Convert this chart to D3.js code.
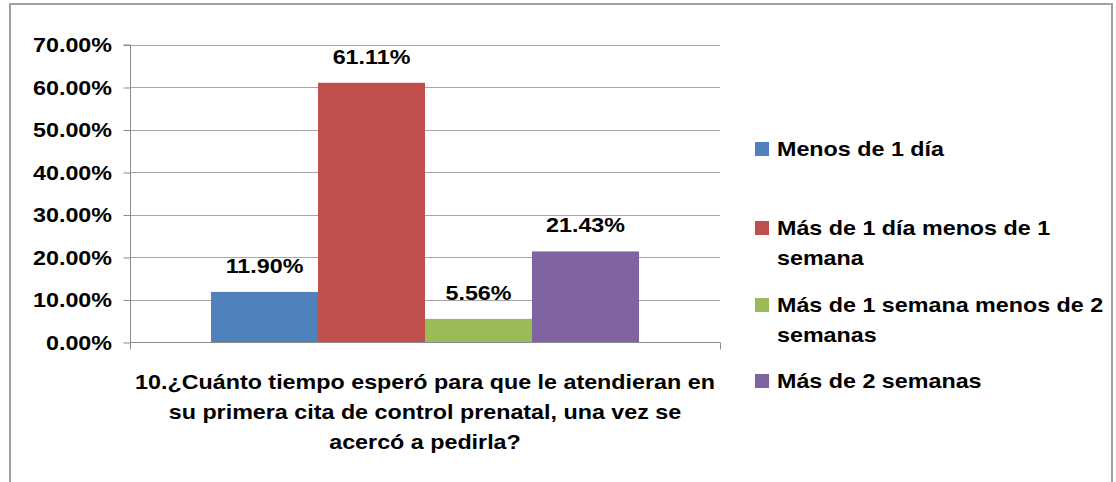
<!DOCTYPE html>
<html><head><meta charset="utf-8">
<script src="https://cdn.jsdelivr.net/npm/d3@7"></script>
<style>body{margin:0;background:#fff;overflow:hidden}text{font-family:"Liberation Sans",Arial,sans-serif;font-weight:bold;fill:#000}</style>
</head><body><svg id="c" width="1116" height="482"></svg>
<script>
const categories = ["10.¿Cuánto tiempo esperó para que le atendieran en su primera cita de control prenatal, una vez se acercó a pedirla?"];
const categoryLines = ["10.¿Cuánto tiempo esperó para que le atendieran en","su primera cita de control prenatal, una vez se","acercó a pedirla?"];
const seriesNames = ["Menos de 1 día","Más de 1 día menos de 1 semana","Más de 1 semana menos de 2 semanas","Más de 2 semanas"];
const legendLines = [["Menos de 1 día"],["Más de 1 día menos de 1","semana"],["Más de 1 semana menos de 2","semanas"],["Más de 2 semanas"]];
const values = [0.1190, 0.6111, 0.0556, 0.2143];
const valueLabels = ["11.90%","61.11%","5.56%","21.43%"];
const yTicks = [0,0.1,0.2,0.3,0.4,0.5,0.6,0.7];
const colors = ["#4F81BD","#C0504D","#9BBB59","#8064A2"];

const svg = d3.select("#c");
const SX = 1.165, FS = 20;
function txt(g, x, yy, s, anchor){
  return g.append("text").attr("transform",`translate(${x},${yy}) scale(${SX},1)`)
    .attr("text-anchor",anchor||"start").style("font-size",FS+"px").text(s);
}
svg.append("rect").attr("x",10).attr("y",4).attr("width",1102).attr("height",520)
  .attr("fill","#fff").attr("stroke","#a0a0a0").attr("stroke-width",2);

const pL=130,pR=720,pT=45,pB=342.5;
const y = d3.scaleLinear().domain([0,0.7]).range([pB,pT]);
const x0 = d3.scaleBand().domain(categories).range([pL,pR]).paddingInner(0).paddingOuter(0);
const gw = 428;
const x1 = d3.scaleBand().domain(seriesNames).range([x0(categories[0]) + (x0.bandwidth()-gw)/2, x0(categories[0]) + (x0.bandwidth()+gw)/2]);

// gridlines
svg.append("g").selectAll("line").data(yTicks.slice(1)).join("line")
  .attr("x1",pL).attr("x2",pR).attr("y1",d=>Math.round(y(d))+0.5).attr("y2",d=>Math.round(y(d))+0.5)
  .attr("stroke","#a6a6a6").attr("stroke-width",1);

// bars
svg.append("g").selectAll("rect").data(values).join("rect")
  .attr("x",(d,i)=>x1(seriesNames[i])).attr("width",x1.bandwidth())
  .attr("y",d=>y(d)).attr("height",d=>pB-y(d)).attr("fill",(d,i)=>colors[i]);

// y axis
const ya = svg.append("g").attr("transform",`translate(${pL+0.5},0)`)
  .call(d3.axisLeft(y).tickValues(yTicks).tickSize(7).tickFormat(()=>""));
ya.selectAll("path,line").attr("stroke","#8c8c8c");
ya.select(".domain").attr("d",`M-7,${pT}H0V${pB}`);
yTicks.forEach(t=>txt(svg,112,y(t)+7,(t*100).toFixed(2)+"%","end"));

// x axis
const xa = svg.append("g");
xa.append("line").attr("x1",pL).attr("x2",pR).attr("y1",pB).attr("y2",pB).attr("stroke","#8c8c8c");
[pL,pR].forEach(px=>xa.append("line").attr("x1",px+0.5).attr("x2",px+0.5).attr("y1",pB).attr("y2",pB+7).attr("stroke","#8c8c8c"));

// value labels
values.forEach((v,i)=>txt(svg,x1(seriesNames[i])+x1.bandwidth()/2,y(v)-19,valueLabels[i],"middle"));

// category label
const cx = x0(categories[0])+x0.bandwidth()/2;
categoryLines.forEach((l,i)=>txt(svg,cx,389+i*30,l,"middle"));

// legend
const legY = [149,228,305,381];
legendLines.forEach((lines,i)=>{
  svg.append("rect").attr("x",755).attr("y",legY[i]-7).attr("width",14).attr("height",14).attr("fill",colors[i]);
  lines.forEach((l,j)=>txt(svg,777,legY[i]+7+j*30,l,"start"));
});
</script></body></html>
